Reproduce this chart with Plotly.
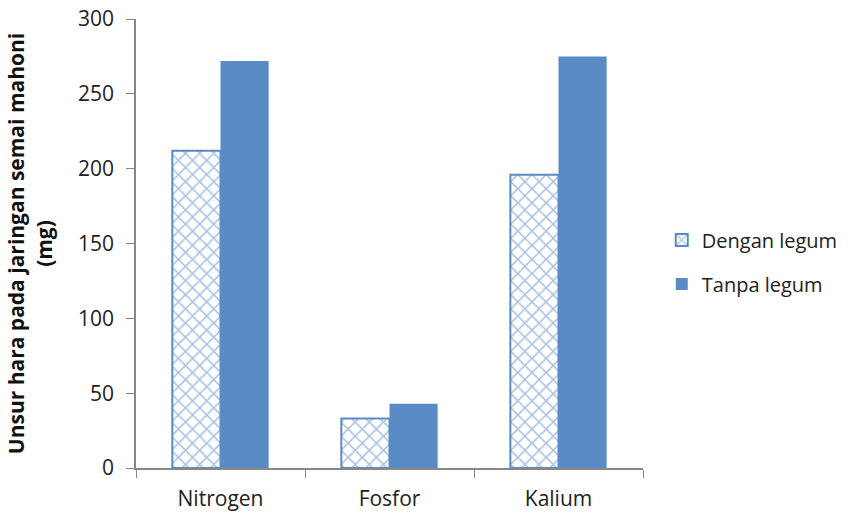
import plotly.graph_objects as go

categories = ["Nitrogen", "Fosfor", "Kalium"]
dengan_legum = [212, 33, 196]
tanpa_legum = [272, 43, 275]
y_ticks = [0, 50, 100, 150, 200, 250, 300]

blue = "#5B8BC5"
fontfam = "Open Sans, Liberation Sans, sans-serif"

fig = go.Figure()
fig.add_trace(go.Bar(
    x=categories, y=dengan_legum, name="Dengan legum", legendgroup="a",
    marker=dict(color="white", line=dict(color=blue, width=2),
                pattern=dict(shape="x", fgcolor=blue, bgcolor="white", size=10, solidity=0.3)),
))
fig.add_trace(go.Bar(
    x=categories, y=tanpa_legum, name="Tanpa legum", legendgroup="b",
    marker=dict(color=blue, line=dict(color=blue, width=0)),
))

fig.update_layout(
    width=848, height=515,
    paper_bgcolor="white", plot_bgcolor="white",
    margin=dict(l=136, r=205, t=19, b=47, autoexpand=False),
    barmode="group", bargap=0.43, bargroupgap=0,
    font=dict(family=fontfam, size=20, color="#222"),
    legend=dict(x=1.037, y=0.459, yanchor="middle", xanchor="left",
                font=dict(size=20), itemsizing="constant", tracegroupgap=15,
                bgcolor="rgba(0,0,0,0)"),
    xaxis=dict(showline=True, linecolor="#888", linewidth=1.5,
               ticks="outside", tickcolor="#888", ticklen=8,
               tickson="boundaries", showgrid=False, automargin=False,
               ticklabelstandoff=11, ticklabeloverflow="allow",
               tickfont=dict(size=21, color="#222")),
    yaxis=dict(range=[0, 300], tickvals=y_ticks, showline=True, linecolor="#888",
               linewidth=1.5, ticks="outside", tickcolor="#888", ticklen=8,
               showgrid=False, zeroline=False, automargin=False,
               ticklabelstandoff=8, ticklabeloverflow="allow",
               tickfont=dict(size=21, color="#222")),
)
fig.update_yaxes(title=dict(text="<b>Unsur hara pada jaringan semai mahoni<br>(mg)</b>",
                            font=dict(size=21, color="#111"), standoff=20))

fig.write_html("out.html", config={"displayModeBar": False},
               post_script="document.body.style.margin='0px';")
